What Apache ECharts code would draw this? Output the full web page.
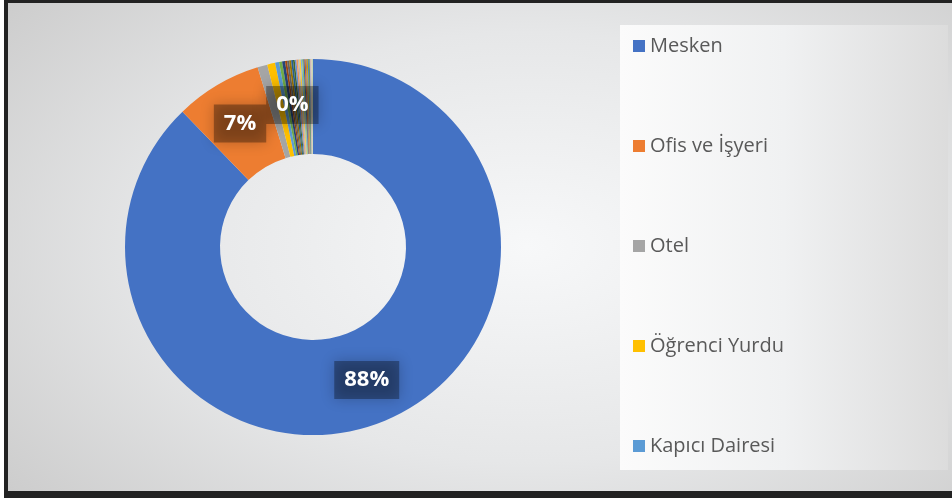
<!DOCTYPE html>
<html>
<head>
<meta charset="utf-8">
<script src="https://cdn.jsdelivr.net/npm/echarts@6/dist/echarts.min.js"></script>
<style>
  html, body { margin: 0; padding: 0; background: #fff; }
  #frame {
    position: absolute; left: 4px; top: 0; width: 948px; height: 498px;
    box-sizing: border-box;
    border-top: 3px solid #222; border-left: 4px solid #222; border-bottom: 7px solid #222;
    background: radial-gradient(ellipse 70% 80% at 55% 50%, #f7f8f9 0%, #e6e7e8 55%, #cdcdcd 100%);
  }
  #panel {
    position: absolute; left: 620px; top: 25px; width: 328px; height: 445px;
    background: linear-gradient(90deg, #fbfbfb 0%, #f0f1f2 50%, #dcdcdc 100%);
  }
  #chart { position: absolute; left: 0; top: 0; width: 952px; height: 498px; }
</style>
</head>
<body>
<div id="frame"></div>
<div id="panel"></div>
<div id="chart"></div>
<script>
// abone türleri (legend shows only the first five)
const categories = [
  "Mesken", "Ofis ve İşyeri", "Otel", "Öğrenci Yurdu", "Kapıcı Dairesi",
  "Hastane", "Okul", "Cami", "Şantiye", "Fabrika", "Atölye", "Depo",
  "Market", "Lokanta", "Kafe", "Banka", "Eczane", "Spor Salonu", "Sinema",
  "Kreş", "Otopark", "Dernek", "Muhtarlık", "Karakol", "Park",
  "Kütüphane", "Müze", "Tiyatro", "Hamam", "Diğer"
];
const values = [
  8775, 745, 85, 68, 34,
  26, 25, 17, 18, 17, 16, 15,
  14, 13, 12, 12, 11, 11, 10,
  10, 9, 9, 8, 8, 7, 6,
  5, 4, 3, 3
];
const legendItems = categories.slice(0, 5);
const palette = [
  "#4472C4", "#ED7D31", "#A5A5A5", "#FFC000", "#5B9BD5", "#70AD47",
  "#264478", "#9E480E", "#636363", "#997300", "#255E91", "#43682B",
  "#698ED0", "#F1975A", "#B7B7B7", "#FFCD33", "#7CAFDD", "#8CC168",
  "#335AA1", "#D26012", "#848484", "#CC9A00", "#3C7EBF", "#5A8A39",
  "#8FAADC", "#F4B183", "#C9C9C9", "#FFD966", "#9DC3E6", "#A9D18E"
];

const total = values.reduce((a, b) => a + b, 0);

let myChart = echarts.init(document.getElementById("chart"));
myChart.setOption({
  animation: false,
  color: palette,
  legend: {
    data: legendItems,
    orient: "vertical",
    left: 633,
    top: 35,
    padding: 0,
    itemWidth: 12,
    itemHeight: 12,
    itemGap: 78,
    icon: "rect",
    textStyle: { fontSize: 20, color: "#595959", fontFamily: "Open Sans", lineHeight: 22 },
    selectedMode: false
  },
  series: [
    {
      type: "pie",
      center: [313, 247],
      radius: [93, 188],
      startAngle: 90,
      clockwise: true,
      avoidLabelOverlap: false,
      silent: true,
      itemStyle: { borderWidth: 0 },
      label: {
        show: true,
        position: "inside",
        formatter: p => Math.round(p.value / total * 100) + "%",
        color: "#fff",
        fontSize: 22,
        fontWeight: "bold",
        fontFamily: "Open Sans",
        backgroundColor: "rgba(0,0,0,0.32)",
        padding: [8, 10],
        shadowBlur: 14,
        shadowColor: "rgba(0,0,0,0.7)"
      },
      labelLine: { show: false },
      data: categories.map((c, i) => ({ name: c, value: values[i] }))
    }
  ]
});
</script>
</body>
</html>
